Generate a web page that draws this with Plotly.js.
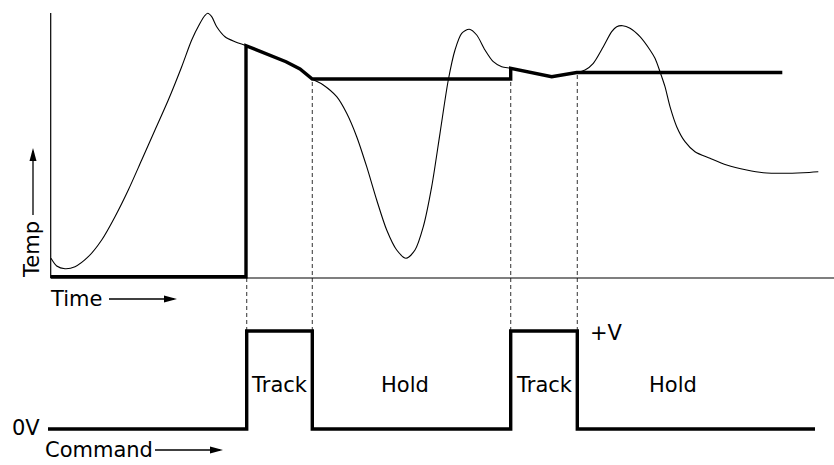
<!DOCTYPE html>
<html>
<head>
<meta charset="utf-8">
<script src="https://cdn.plot.ly/plotly-3.0.1.min.js"></script>
<style>html,body{margin:0;padding:0;background:#fff;}#chart{width:834px;height:465px;}</style>
</head>
<body>
<div id="chart"></div>
<script>
// Measured temperature (thin curve): time units vs temperature units
const tempTime = [1,6.7,15,25,38.3,51.7,65,78.3,91.7,105,118.3,131.7,141.7,150,154.5,157.7,161.7,166.7,175,185,196,216,236,250,262.3,273.3,286.7,296.7,306.7,316.7,326.7,336.7,346.7,356,365,373.3,381.7,390,398.3,405,411.7,419.3,426.7,435,443.3,451.7,460.7,481,501.7,514,526.7,535,543.3,553.3,561.7,566.7,572.7,580,590,600,605,610,615,620,626.7,635,645,660,676.7,696.7,713.3,733.3,753.3,768.3];
const tempValue = [19.7,12,9.3,11.3,21.3,38,61.3,88,118,148,178,211.3,238,254.7,262,264.7,261.3,251.3,241.3,236.3,232.3,224.5,216.3,209,199,193,181.3,164.7,141.3,111.3,78,48,28,19.7,28,51.3,91.3,144.7,198,228,244.7,248.7,243,228,216.3,211.3,209.7,205.5,201.3,203.5,205.5,208,214.7,231.3,246.3,251.3,252.3,249.7,241.3,228,219.7,206.3,191.3,171.3,151.3,136.3,126.3,119.7,113,108,105.3,104.7,105.3,106.3];

// Track-and-hold output (thick line)
const holdTime = [0.7,196,196,216,236,250,262.3,460.7,460.7,501.7,526.7,732.3];
const holdValue = [1.3,1.3,232.3,224.5,216.3,209,199,199,209.7,201.3,205.5,205.5];

// Command signal (0 = 0V, 1 = +V)
const cmdTime = [-2,196.7,196.7,262.3,262.3,460.7,460.7,527.3,527.3,765];
const cmdValue = [0,0,1,1,0,0,1,1,0,0];

// Switching instants and held level at each
const switchTime = [196.7,262.3,460.7,527.3];
const switchTop = [0,199,209.7,205.5];

const phaseLabels = ["Track","Hold","Track","Hold"];
const phaseCenter = [229.5,355,494,623];

const xRange = [-50,784];
const yRange = [-187,278];
const y2Range = [-0.367,4.378];
function v2T(v){ const f=(v-y2Range[0])/(y2Range[1]-y2Range[0]); return yRange[0]+f*(yRange[1]-yRange[0]); }

const FONT = {family:"DejaVu Sans, Verdana, sans-serif", size:21, color:"#000"};

const traces = [
  {x:[0.7,0.7], y:[0,265], mode:"lines", line:{color:"#000",width:1.2}, hoverinfo:"skip"},
  {x:[0.7,784], y:[0,0], mode:"lines", line:{color:"#000",width:1.2}, hoverinfo:"skip"},
  {x:tempTime, y:tempValue, mode:"lines", line:{color:"#000",width:1.1,shape:"spline",smoothing:0.8}, hoverinfo:"skip"},
  {x:holdTime, y:holdValue, mode:"lines", line:{color:"#000",width:3.4}, hoverinfo:"skip"},
  {x:cmdTime, y:cmdValue, yaxis:"y2", mode:"lines", line:{color:"#000",width:3.4}, hoverinfo:"skip"}
];

const shapes = [];
switchTime.forEach((t,i)=>{
  shapes.push({type:"line", xref:"x", yref:"y", x0:t, x1:t, y0:v2T(1), y1:switchTop[i], line:{color:"#444",width:1.1,dash:"4px,3px"}, layer:"below"});
});
function arrowShaft(x0,y0,x1,y1,yref){ shapes.push({type:"line",xref:"x",yref:yref,x0:x0,y0:y0,x1:x1,y1:y1,line:{color:"#000",width:1.3}}); }
function arrowHead(x,y,yref,dir){
  const p = dir==="right" ? "M-13,-3.5 L0,0 L-13,3.5 Z" : "M-3.5,-13 L0,0 L3.5,-13 Z";
  shapes.push({type:"path",xref:"x",yref:yref,xsizemode:"pixel",ysizemode:"pixel",xanchor:x,yanchor:y,path:p,fillcolor:"#000",line:{width:0}});
}
// Time arrow
arrowShaft(59,-21,124,-21,"y"); arrowHead(127,-21,"y","right");
// Temp arrow
arrowShaft(-17,63,-17,127,"y"); arrowHead(-17,130,"y","up");
// Command arrow
arrowShaft(105,-0.214,170,-0.214,"y2"); arrowHead(173,-0.214,"y2","right");

const annotations = [
  {text:"Time", x:-2, y:-21, xref:"x", yref:"y", xanchor:"left", yanchor:"middle", showarrow:false, font:FONT},
  {text:"Temp", x:-18, y:28, xref:"x", yref:"y", xanchor:"center", yanchor:"middle", textangle:-90, showarrow:false, font:FONT},
  {text:"0V", x:-40, y:0.01, xref:"x", yref:"y2", xanchor:"left", yanchor:"middle", showarrow:false, font:FONT},
  {text:"Command", x:-7, y:-0.214, xref:"x", yref:"y2", xanchor:"left", yanchor:"middle", showarrow:false, font:FONT},
  {text:"+V", x:538, y:0.98, xref:"x", yref:"y2", xanchor:"left", yanchor:"middle", showarrow:false, font:FONT}
];
phaseLabels.forEach((lab,i)=>{
  annotations.push({text:lab, x:phaseCenter[i], y:0.449, xref:"x", yref:"y2", xanchor:"center", yanchor:"middle", showarrow:false, font:FONT});
});

const layout = {
  width:834, height:465, autosize:false,
  margin:{l:0,r:0,t:0,b:0,pad:0},
  paper_bgcolor:"#fff", plot_bgcolor:"#fff",
  showlegend:false,
  xaxis:{range:xRange, visible:false, fixedrange:true},
  yaxis:{range:yRange, visible:false, fixedrange:true},
  yaxis2:{range:y2Range, visible:false, overlaying:"y", fixedrange:true},
  shapes:shapes,
  annotations:annotations
};
Plotly.newPlot("chart", traces, layout, {staticPlot:true, displayModeBar:false});
</script>
</body>
</html>
